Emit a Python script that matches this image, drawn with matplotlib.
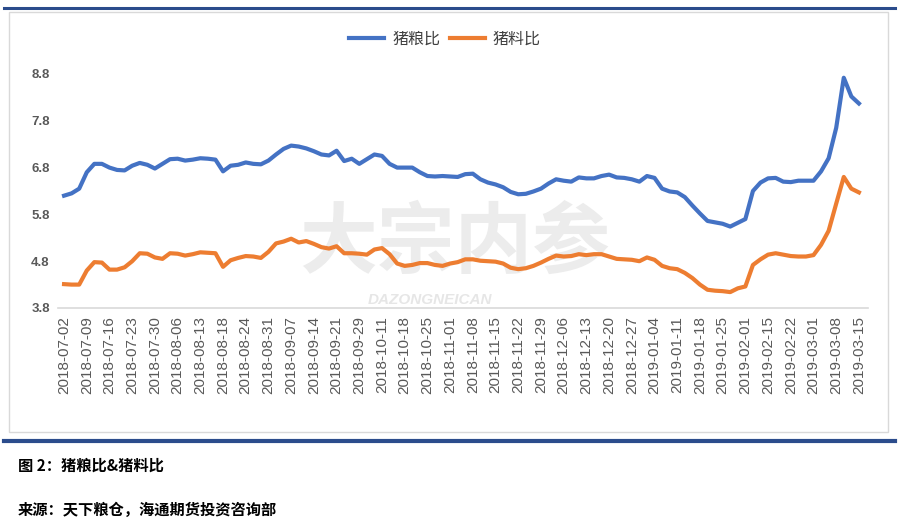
import matplotlib.pyplot as plt
from matplotlib.lines import Line2D
from matplotlib.patches import Rectangle
import numpy as np

plt.rcParams['font.family'] = ['Noto Sans CJK SC', 'DejaVu Sans']

# tick labels (one label every 3 points)
dates = ['2018-07-02', '2018-07-09', '2018-07-16', '2018-07-23', '2018-07-30',
         '2018-08-06', '2018-08-13', '2018-08-18', '2018-08-24', '2018-08-31',
         '2018-09-07', '2018-09-14', '2018-09-21', '2018-09-29', '2018-10-11',
         '2018-10-18', '2018-10-25', '2018-11-01', '2018-11-08', '2018-11-15',
         '2018-11-22', '2018-11-29', '2018-12-06', '2018-12-13', '2018-12-20',
         '2018-12-27', '2019-01-04', '2019-01-11', '2019-01-18', '2019-01-25',
         '2019-02-01', '2019-02-15', '2019-02-22', '2019-03-01', '2019-03-08',
         '2019-03-15']

# 猪粮比
pig_grain = [6.20, 6.25, 6.35, 6.70, 6.88, 6.88, 6.80, 6.75, 6.74, 6.84,
             6.90, 6.86, 6.78, 6.88, 6.98, 6.99, 6.95, 6.97, 7.00, 6.99,
             6.97, 6.72, 6.84, 6.86, 6.91, 6.88, 6.87, 6.95, 7.08, 7.20,
             7.27, 7.25, 7.21, 7.15, 7.08, 7.06, 7.16, 6.94, 6.99, 6.88,
             6.98, 7.08, 7.05, 6.88, 6.80, 6.80, 6.80, 6.70, 6.62, 6.61,
             6.62, 6.61, 6.60, 6.66, 6.67, 6.55, 6.48, 6.44, 6.38, 6.28,
             6.23, 6.24, 6.29, 6.35, 6.46, 6.55, 6.52, 6.50, 6.59, 6.57,
             6.57, 6.62, 6.65, 6.59, 6.58, 6.55, 6.50, 6.62, 6.58, 6.35,
             6.29, 6.27, 6.17, 5.99, 5.82, 5.66, 5.63, 5.60, 5.54, 5.62,
             5.70, 6.30, 6.48, 6.57, 6.58, 6.50, 6.49, 6.52, 6.52, 6.52,
             6.72, 7.00, 7.65, 8.72, 8.32, 8.17]

# 猪料比
pig_feed = [4.31, 4.30, 4.30, 4.60, 4.78, 4.77, 4.62, 4.62, 4.67, 4.80,
            4.97, 4.96, 4.88, 4.85, 4.97, 4.96, 4.92, 4.95, 4.99, 4.98,
            4.97, 4.68, 4.82, 4.87, 4.91, 4.90, 4.87, 5.00, 5.18, 5.22,
            5.28, 5.20, 5.23, 5.17, 5.10, 5.07, 5.12, 4.97, 4.97, 4.96,
            4.94, 5.05, 5.08, 4.95, 4.75, 4.70, 4.72, 4.76, 4.76, 4.72,
            4.70, 4.75, 4.78, 4.84, 4.84, 4.81, 4.80, 4.79, 4.75, 4.66,
            4.63, 4.65, 4.70, 4.77, 4.85, 4.92, 4.90, 4.91, 4.95, 4.93,
            4.95, 4.95, 4.90, 4.85, 4.84, 4.83, 4.80, 4.88, 4.83, 4.70,
            4.65, 4.63, 4.55, 4.44, 4.30, 4.19, 4.17, 4.16, 4.14, 4.22,
            4.26, 4.72, 4.84, 4.94, 4.97, 4.94, 4.91, 4.90, 4.90, 4.93,
            5.15, 5.45, 6.03, 6.60, 6.35, 6.27]

yticks = [3.8, 4.8, 5.8, 6.8, 7.8, 8.8]

x = np.arange(len(pig_grain))
W, H = 901, 522
fig = plt.figure(figsize=(W / 100, H / 100), dpi=100)

# frame / page decorations
fig.add_artist(Line2D([4 / W, 895 / W], [1 - 8 / H, 1 - 8 / H], color='#2b4c8c', lw=2.2))
fig.add_artist(Rectangle((9 / W, 1 - 432 / H), 879 / W, 420 / H, fill=False,
                         ec='#d9d9d9', lw=1))
fig.add_artist(Line2D([4 / W, 895 / W], [1 - 441 / H, 1 - 441 / H], color='#2b4c8c', lw=3))

ax = fig.add_axes([58 / W, 1 - 308 / H, 810 / W, 234 / H])
ax.plot(x, pig_grain, color='#4472C4', lw=3, label='猪粮比', solid_joinstyle='round')
ax.plot(x, pig_feed, color='#ED7D31', lw=3, label='猪料比', solid_joinstyle='round')

ax.set_xlim(-0.8, len(x) + 0.2)
ax.set_ylim(3.8, 8.8)
ax.set_yticks(yticks)
ax.set_yticklabels(['%.1f' % v for v in yticks], fontsize=9.5, color='#595959',
                   fontweight='bold', family=['Liberation Sans', 'DejaVu Sans'])
ax.set_xticks(x[::3])
ax.set_xticklabels(dates, rotation=90, fontsize=11, color='#595959',
                   family=['Liberation Sans', 'DejaVu Sans'])
ax.tick_params(axis='both', length=0, pad=6)
for s in ['top', 'right', 'left']:
    ax.spines[s].set_visible(False)
ax.spines['bottom'].set_color('#d9d9d9')
ax.spines['bottom'].set_linewidth(1.2)

# watermark
fig.text(455 / W, 1 - 244 / H, '大宗内参', fontsize=56, color='#ececec',
         ha='center', va='center', fontweight='bold', zorder=0)
fig.text(430 / W, 1 - 300 / H, 'DAZONGNEICAN', fontsize=11, color='#e6e6e6',
         ha='center', va='center', fontweight='bold', style='italic',
         family=['Liberation Sans', 'DejaVu Sans'], zorder=0)
ax.set_zorder(2)
ax.patch.set_alpha(0)

leg = fig.legend(loc='center', bbox_to_anchor=(445 / W, 1 - 39 / H), ncol=2,
                 frameon=False, fontsize=11.5, handlelength=2.2, columnspacing=0.6,
                 handletextpad=0.5)
for t in leg.get_texts():
    t.set_color('#404040')

fig.text(18 / W, 1 - 466 / H, '图 2：猪粮比&猪料比', fontsize=11, fontweight='bold',
         va='center', ha='left', color='#000000')
fig.text(18 / W, 1 - 510 / H, '来源：天下粮仓，海通期货投资咨询部', fontsize=11,
         fontweight='bold', va='center', ha='left', color='#000000')

fig.savefig('out.png', dpi=100)
